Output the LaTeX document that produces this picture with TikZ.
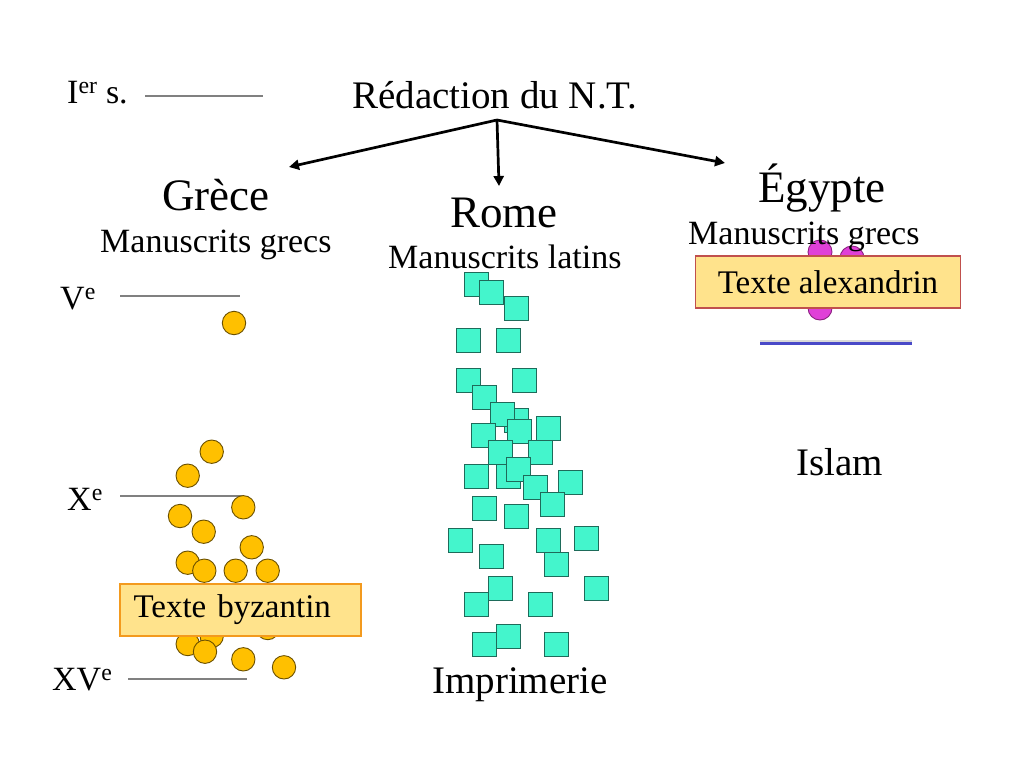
\documentclass[tikz,border=0pt]{standalone}
\usepackage{fontspec}
\setmainfont{Liberation Serif}
\usetikzlibrary{arrows.meta}
\definecolor{goldfill}{HTML}{FFC000}
\definecolor{goldline}{HTML}{6B5000}
\definecolor{sqfill}{HTML}{44F5CC}
\definecolor{sqline}{HTML}{1E6B5A}
\definecolor{magfill}{HTML}{E040D8}
\definecolor{magline}{HTML}{8A2080}
\definecolor{boxfill}{HTML}{FFE38C}
\definecolor{boxorange}{HTML}{F39A1E}
\definecolor{boxred}{HTML}{C0504D}
\definecolor{centline}{HTML}{808080}
\definecolor{islamblue}{HTML}{4A4AC8}
\begin{document}
\begin{tikzpicture}[x=1pt,y=-1pt,
  txt/.style={inner sep=0pt,anchor=base west},
  big/.style={font=\fontsize{45}{50}\selectfont},
  mid/.style={font=\fontsize{39}{44}\selectfont},
  small/.style={font=\fontsize{34}{38}\selectfont},
  boxt/.style={font=\fontsize{33}{36}\selectfont},
  cent/.style={draw=centline,line width=1.5pt},
  dot/.style={circle,draw=goldline,fill=goldfill,line width=0.9pt,minimum size=23.4pt,inner sep=0pt},
  sq/.style={rectangle,draw=sqline,fill=sqfill,line width=1pt,minimum size=24pt,inner sep=0pt},
  mdot/.style={circle,draw=magline,fill=magfill,line width=0.9pt,minimum size=24pt,inner sep=0pt},
  arr/.style={line width=2.7pt,-{Triangle[length=10pt,width=10pt]}}]
\useasboundingbox (0,0) rectangle (1024,768);
\fill[white] (0,0) rectangle (1024,768);

% century labels and lines
\node[txt,small] (c1) at (67,103) {I\textsuperscript{er} s.};
\coordinate (c1a) at (145,96); \coordinate (c1b) at (263,96);
\draw[cent] (c1a) -- (c1b);
\node[txt,small] (c5) at (60,309) {V\textsuperscript{e}};
\coordinate (c5a) at (120,296); \coordinate (c5b) at (240,296);
\draw[cent] (c5a) -- (c5b);
\node[txt,small] (c10) at (67,510) {X\textsuperscript{e}};
\coordinate (c10a) at (120,496); \coordinate (c10b) at (243,496);
\draw[cent] (c10a) -- (c10b);
\node[txt,small] (c15) at (52,690) {XV\textsuperscript{e}};
\coordinate (c15a) at (128,679); \coordinate (c15b) at (247,679);
\draw[cent] (c15a) -- (c15b);

% title and arrows
\node[txt,mid] (title) at (352,108) {Rédaction du N.T.};
\coordinate (hub) at (497,120);
\coordinate (tg) at (289,167);
\coordinate (tr) at (499,186);
\coordinate (te) at (725,163);
\draw[arr] (hub) -- (tg);
\draw[arr] (hub) -- (tr);
\draw[arr] (hub) -- (te);

% headings
\node[txt,big] (grece) at (162,210) {Grèce};
\node[txt,small] (mg) at (100,252) {Manuscrits grecs};
\node[txt,big] (rome) at (450,227) {Rome};
\node[txt,small] (ml) at (388,268) {Manuscrits latins};

% Egypt magenta dots (behind text)
\node[mdot] (m1) at (820,252) {};
\node[mdot] (m2) at (852,258) {};
\node[mdot] (m3) at (820,308) {};
\node[txt,big] (egypte) at (758,202) {Égypte};
\node[txt,small] (me) at (688,244) {Manuscrits grecs};
\node[rectangle,draw=boxred,fill=boxfill,line width=1.3pt,minimum width=265pt,minimum height=52pt,inner sep=0pt,boxt] (alex) at (828,282) {Texte alexandrin};
\coordinate (bl1) at (760,343); \coordinate (bl2) at (912,343);
\draw[line width=4pt,black!15] ([yshift=1.5pt]bl1) -- ([yshift=1.5pt]bl2);
\draw[line width=3pt,islamblue] (bl1) -- (bl2);
\node[txt,mid] (islam) at (796,475) {Islam};

% Greek circles
\foreach \x/\y [count=\i] in {234/323,211.7/451.7,187.7/475.7,243.3/507.3,180/516,203.7/531.7,251.7/547.3,187.7/562.7,204.3/570.7,235.7/570.7,267.7/570.7,211.7/636,267.7/628,187.7/644,205/651.7,243.3/659.3,284/667.3}
  \node[dot] (g\i) at (\x,\y) {};
\node[rectangle,draw=boxorange,fill=boxfill,line width=2pt,minimum width=241pt,minimum height=52pt,text width=213pt,align=left,inner xsep=14pt,inner ysep=0pt,boxt] (byz) at (240,610) {Texte byzantin};

% Latin squares
\foreach \x/\y [count=\i] in {476/284,491.7/292,516/308,468/340,508/340,468/380,524/380,484/397,516/420,502/414,548/428,483/435,519/431,540/452,500/452,476/476,508/476,518/469,535/487,570/482,552/504,484/508,516/516,460/540,548/540,586/538,491/556,556/564,476/604,500/588,540/604,596/588,484/644,508/636,556/644}
  \node[sq] (s\i) at (\x,\y) {};
\node[txt,mid] (imp) at (432,693) {Imprimerie};
\end{tikzpicture}
\end{document}
